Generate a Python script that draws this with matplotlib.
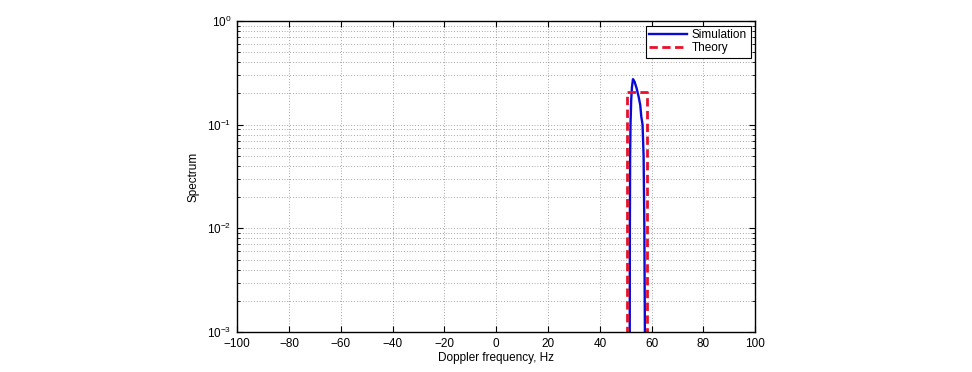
import numpy as np
import matplotlib.pyplot as plt
from matplotlib.ticker import LogLocator, MultipleLocator, NullFormatter

# simulated spectrum
sim_freq = [51.5, 51.55, 51.6, 51.7, 51.85, 52.1, 52.4, 52.8, 53.4, 54.2, 55.0, 55.6, 56.0, 56.5, 56.9, 57.2, 57.4, 57.45]
sim_spec = [1e-4, 1e-3, 0.01, 0.05, 0.1, 0.17, 0.23, 0.275, 0.26, 0.225, 0.185, 0.155, 0.12, 0.1, 0.05, 0.01, 1e-3, 1e-4]

# theoretical (flat) spectrum
th_freq = [50.4, 50.4, 58.2, 58.2]
th_spec = [1e-4, 0.205, 0.205, 1e-4]

xlim = (-100, 100)
ylim = (1e-3, 1)

plt.rcParams['font.family'] = ['Liberation Sans', 'DejaVu Sans']
plt.rcParams['mathtext.fontset'] = 'custom'
plt.rcParams['mathtext.rm'] = 'Liberation Sans'

fig = plt.figure(figsize=(9.72, 3.72), dpi=100)
ax = fig.add_axes([0.244, 0.1075, 0.533, 0.836])

ax.plot(sim_freq, sim_spec, color='#0a0ad8', lw=1.7, label='Simulation')
ax.plot(th_freq, th_spec, color='#e8102a', lw=2.0, linestyle=(0, (3, 1.6)), label='Theory')

ax.set_yscale('log')
ax.set_xlim(*xlim)
ax.set_ylim(*ylim)
ax.xaxis.set_major_locator(MultipleLocator(20))
ax.yaxis.set_major_locator(LogLocator(base=10, numticks=10))
ax.yaxis.set_minor_locator(LogLocator(base=10, subs=np.arange(2, 10), numticks=20))
ax.yaxis.set_minor_formatter(NullFormatter())

ax.grid(True, which='major', color='#555555', linestyle=(0, (1, 3)), lw=0.5)
ax.grid(True, which='minor', axis='y', color='#555555', linestyle=(0, (1, 3)), lw=0.5)

ax.tick_params(which='both', direction='in', top=True, right=True, labelsize=8.5, pad=4)
ax.tick_params(which='major', length=4, width=0.8)
ax.tick_params(which='minor', length=2, width=0.6)
for sp in ax.spines.values():
    sp.set_linewidth(1.0)

ax.set_xlabel('Doppler frequency, Hz', fontsize=8.5, labelpad=2)
ax.set_ylabel('Spectrum', fontsize=8.5, labelpad=6)

leg = ax.legend(loc='upper right', fontsize=8.5, fancybox=False, framealpha=1,
                edgecolor='black', borderpad=0.3, handlelength=3.2,
                handletextpad=0.4, labelspacing=0.1, borderaxespad=0.4)
leg.get_frame().set_linewidth(0.8)

fig.savefig('out.png', dpi=100, facecolor='white')
